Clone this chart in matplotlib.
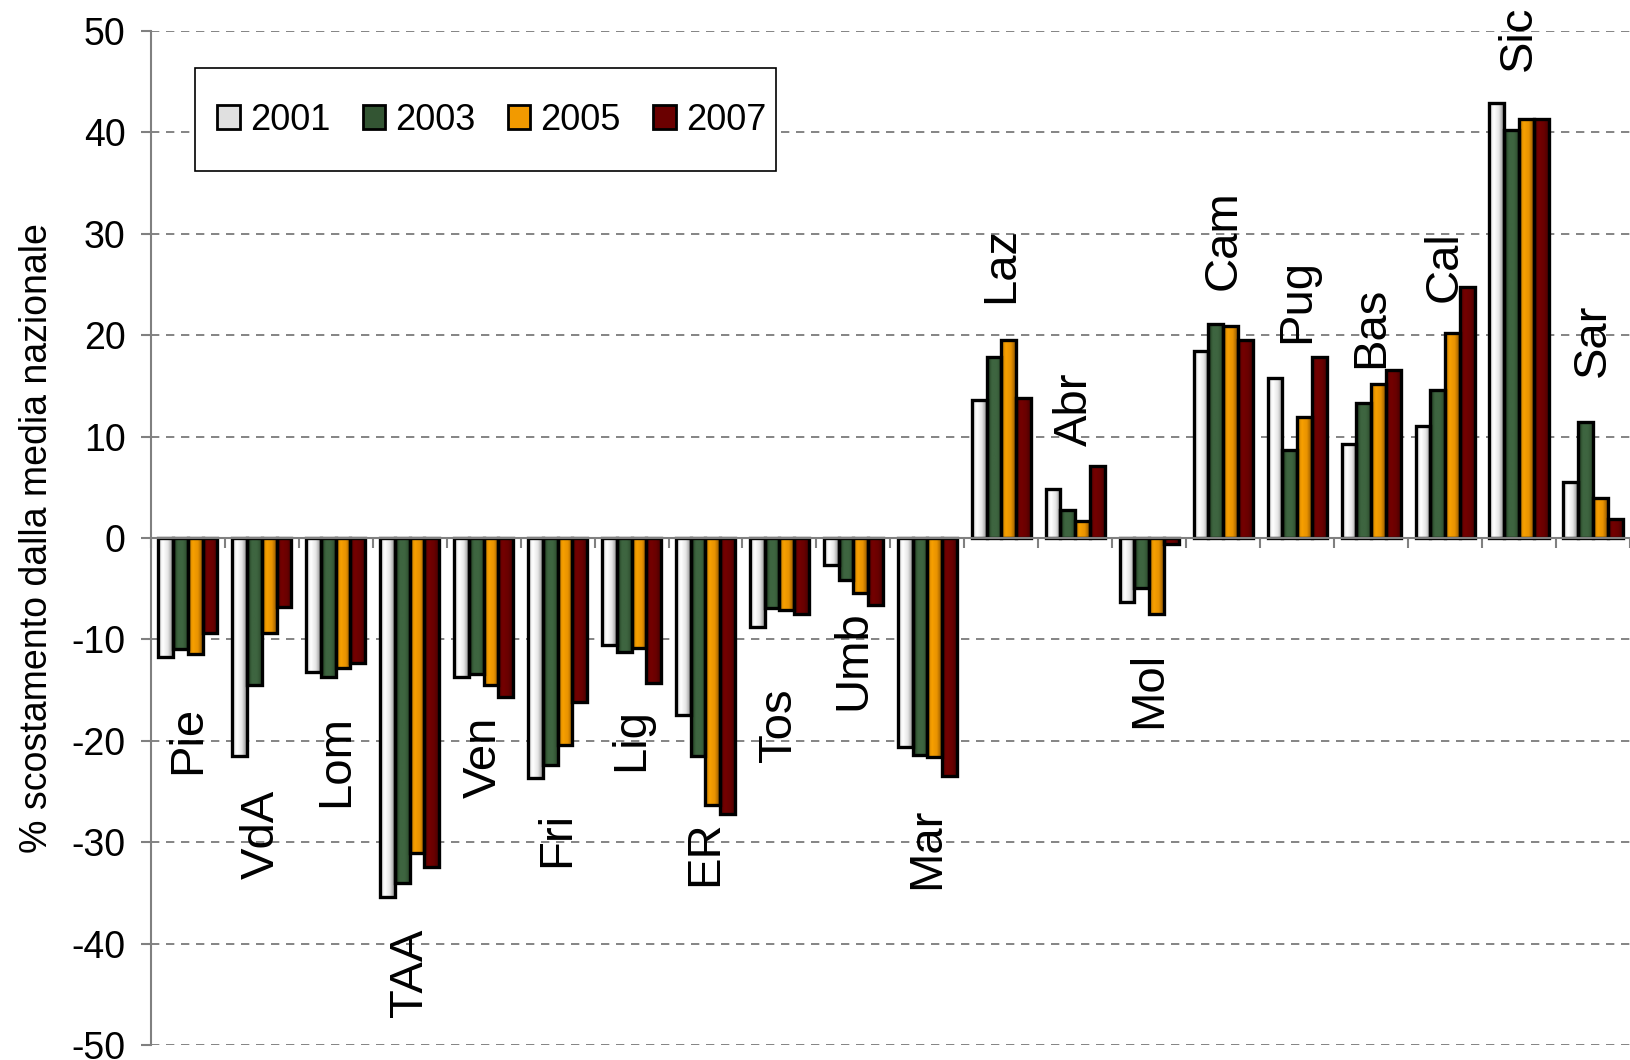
import numpy as np
import matplotlib
matplotlib.use("Agg")
import matplotlib.pyplot as plt
from matplotlib.colors import LinearSegmentedColormap
from matplotlib.patches import Patch, Rectangle

plt.rcParams['font.family'] = ['Liberation Sans', 'DejaVu Sans']
plt.rcParams['axes.unicode_minus'] = False

# regions and yearly deviation from the national average (%)
regions = ['Pie', 'VdA', 'Lom', 'TAA', 'Ven', 'Fri', 'Lig', 'ER', 'Tos', 'Umb',
           'Mar', 'Laz', 'Abr', 'Mol', 'Cam', 'Pug', 'Bas', 'Cal', 'Sic', 'Sar']
years = ['2001', '2003', '2005', '2007']
v2001 = [-11.7, -21.5, -13.2, -35.4, -13.7, -23.7, -10.6, -17.5, -8.8, -2.7,
         -20.6, 13.6, 4.8, -6.3, 18.4, 15.8, 9.3, 11.0, 42.9, 5.5]
v2003 = [-11.0, -14.5, -13.7, -34.0, -13.4, -22.4, -11.2, -21.5, -6.9, -4.1,
         -21.4, 17.8, 2.8, -4.9, 21.1, 8.7, 13.3, 14.6, 40.2, 11.4]
v2005 = [-11.4, -9.4, -12.8, -31.1, -14.5, -20.4, -10.9, -26.3, -7.1, -5.4,
         -21.6, 19.5, 1.7, -7.5, 20.9, 11.9, 15.2, 20.2, 41.3, 3.9]
v2007 = [-9.4, -6.8, -12.3, -32.5, -15.7, -16.2, -14.3, -27.2, -7.5, -6.6,
         -23.5, 13.8, 7.1, -0.6, 19.5, 17.8, 16.6, 24.7, 41.3, 1.9]
series = [v2001, v2003, v2005, v2007]

# where each region name sits (centre, in axis units), as placed in the original
label_pos = [-19.9, -29.2, -22.0, -42.9, -21.6, -29.7, -19.9, -31.1, -18.5, -12.0,
             -30.6, 26.9, 12.7, -15.0, 29.4, 23.4, 20.8, 26.8, 49.3, 19.5]

# gradient colour stops (left -> right) and legend colour per year
gradients = [['#d8d8d8', '#ffffff', '#e6e6e6', '#8c8c8c'],
             ['#1a331a', '#3e6540', '#3e6540', '#2c4a2c'],
             ['#c47a00', '#f7a000', '#e89200', '#8f5500'],
             ['#5a0000', '#740000', '#6a0000', '#4a0000']]
legend_colors = ['#e0e0e0', '#335533', '#f29a00', '#6a0000']

fig = plt.figure(figsize=(16.3, 10.6), dpi=100)
ax = fig.add_axes([0.0925, 0.0142, 0.9075, 0.9566])

n = len(regions)
x = np.arange(n)
w = 0.2
grad = np.linspace(0, 1, 64).reshape(1, -1)

for k, vals in enumerate(series):
    cmap = LinearSegmentedColormap.from_list('g%d' % k, gradients[k])
    xs = x - 2 * w + k * w + w / 2
    ax.bar(xs, vals, width=w, facecolor='none', edgecolor='black',
           linewidth=2.4, zorder=4)
    for xi, v in zip(xs, vals):
        ax.imshow(grad, cmap=cmap, aspect='auto', interpolation='bilinear',
                  extent=(xi - w / 2, xi + w / 2, min(v, 0), max(v, 0)),
                  zorder=3)

for i, name in enumerate(regions):
    ax.text(x[i], label_pos[i], name, rotation=90, ha='center', va='center',
            fontsize=34, zorder=6)

ax.set_xlim(-0.5, n - 0.5)
ax.set_ylim(-50, 50)
ax.set_yticks(np.arange(-50, 51, 10))
ax.yaxis.grid(True, color='#707070', linestyle=(0, (5, 4)), linewidth=1.2)
ax.set_axisbelow(True)

ax.spines['top'].set_visible(False)
ax.spines['right'].set_visible(False)
ax.spines['left'].set_color('#808080')
ax.spines['left'].set_linewidth(1.5)
ax.spines['bottom'].set_position(('data', 0))
ax.spines['bottom'].set_color('#808080')
ax.spines['bottom'].set_linewidth(1.5)
ax.spines['bottom'].set_zorder(5)

ax.set_xticks(np.arange(-0.5, n, 1.0))
ax.set_xticklabels([])
ax.tick_params(axis='x', direction='out', length=7, width=1.5, color='#808080')
ax.tick_params(axis='y', direction='out', length=7, width=1.5, color='#808080',
               labelsize=27, pad=11)

ax.set_ylabel('% scostamento dalla media nazionale', fontsize=27, labelpad=12)

# legend: entries without frame, box drawn separately to get Excel's padding
handles = [Patch(facecolor=c, edgecolor='black', linewidth=2) for c in legend_colors]
leg = ax.legend(handles, years, loc='center left', bbox_to_anchor=(0.045, 0.9118),
                ncol=4, fontsize=26, frameon=False, borderpad=0, borderaxespad=0,
                handlelength=0.62, handleheight=0.62, handletextpad=0.28,
                columnspacing=0.9)
leg.set_zorder(7)
ax.add_patch(Rectangle((0.0302, 0.8614), 0.3922, 0.1025, transform=ax.transAxes,
                       facecolor='white', edgecolor='black', linewidth=1.2,
                       zorder=6.5))

fig.savefig('out.png', dpi=100)
